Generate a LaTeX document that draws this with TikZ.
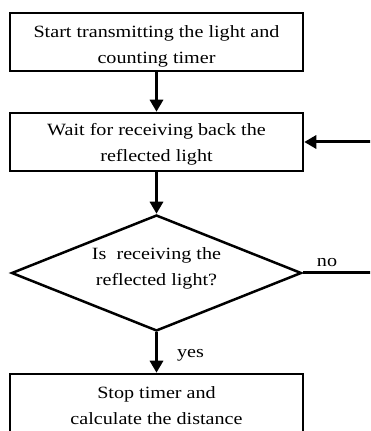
\documentclass[tikz,border=0pt]{standalone}
\usepackage{fontspec}
\setmainfont{Liberation Serif}[FakeStretch=1.17]
\usetikzlibrary{shapes.geometric,arrows.meta}
\tikzset{
  txt/.style={font=\fontsize{17.2}{26}\selectfont, inner sep=0pt, align=center},
  procbox/.style={draw, rectangle, line width=2.5pt, minimum width=293pt, minimum height=58pt, inner sep=0pt},
  decbox/.style={draw, diamond, line width=2.5pt, minimum width=290pt, minimum height=116pt, inner sep=0pt},
  flow/.style={line width=3pt, -{Triangle[length=12pt,width=13pt]}}
}
\begin{document}
\begin{tikzpicture}[x=1pt,y=1pt]
\clip (0,0) rectangle (370,431);
\fill[white] (0,0) rectangle (370,431);
\node[procbox] (b1) at (156.5,389) {};
\node[txt] (b1t) at ([yshift=-4pt]b1.center) {Start transmitting the light and\\counting timer};
\node[procbox] (b2) at (156.5,289) {};
\node[txt] (b2t) at ([yshift=-2pt]b2.center) {Wait for receiving back the\\reflected light};
\node[decbox] (d) at (156.5,158) {};
\node[txt] (dt) at ([yshift=5pt]d.center) {Is\ \ receiving the\\reflected light?};
\node[procbox] (b3) at (156.5,28) {};
\node[txt] (b3t) at ([yshift=-2.5pt]b3.center) {Stop timer and\\calculate the distance};
\coordinate (r1) at (385,158);
\coordinate (r2) at (385,289);
\draw[flow] (b1) -- (b2);
\draw[flow] (b2) -- (d);
\draw[flow] (d) -- (b3);
\draw[flow] (d.east) -- (r1) -- (r2) -- (b2.east);
\node[txt, anchor=base] (no) at (327,164) {no};
\node[txt, anchor=base] (yes) at (190.5,73.5) {yes};
\end{tikzpicture}
\end{document}
